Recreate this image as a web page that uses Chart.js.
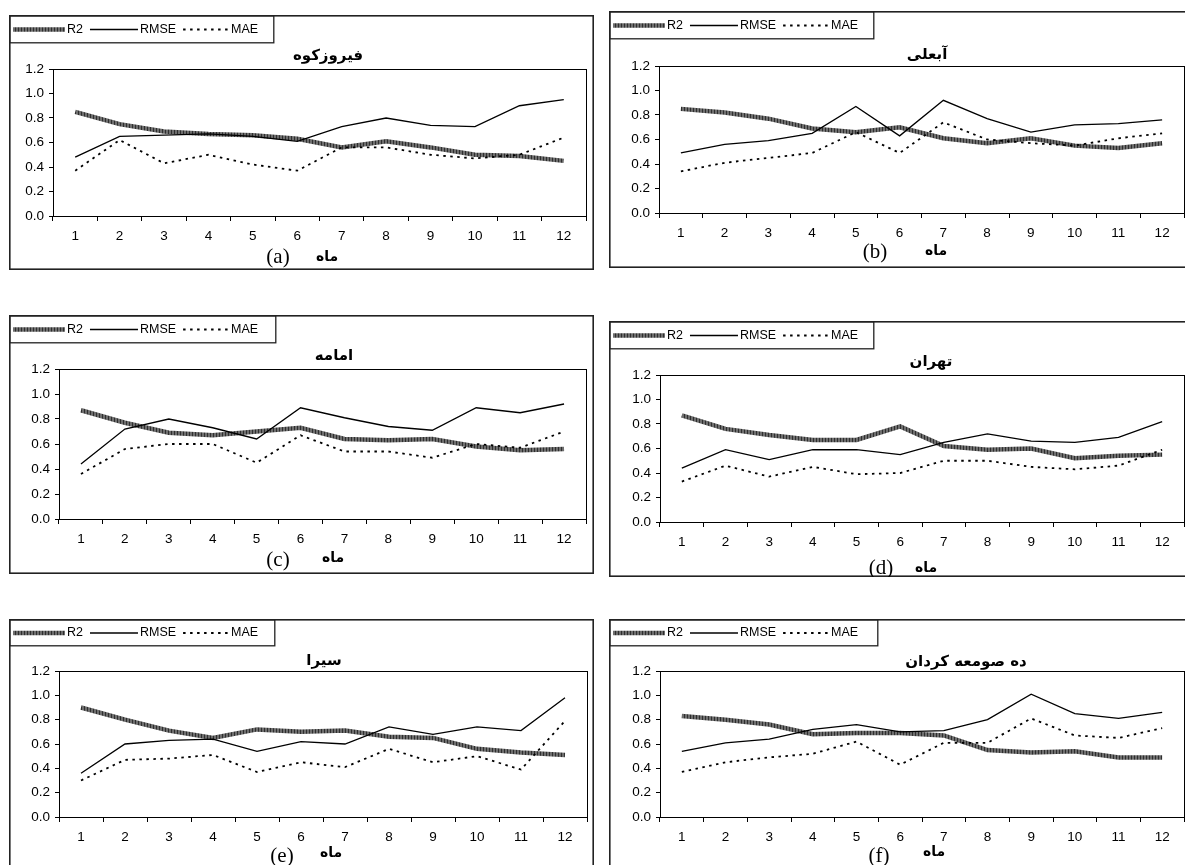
<!DOCTYPE html>
<html><head><meta charset="utf-8">
<script src="https://cdn.jsdelivr.net/npm/chart.js@4.4.1/dist/chart.umd.min.js"></script>
<style>
html,body{margin:0;padding:0;background:#fff;overflow:hidden;width:1185px;height:865px;position:relative;}
canvas{position:absolute;}
</style></head><body>
<script>
// ---------- data ----------
const months = ['1','2','3','4','5','6','7','8','9','10','11','12'];
const yTickValues = [0, 0.2, 0.4, 0.6, 0.8, 1.0, 1.2];
const seriesNames = ['R2', 'RMSE', 'MAE'];
const stationTitles = ['فیروزکوه', 'آبعلی', 'امامه', 'تهران', 'سیرا', 'ده صومعه کردان'];
const panelLetters = ['(a)', '(b)', '(c)', '(d)', '(e)', '(f)'];
const xAxisWord = 'ماه';

const r2_a   = [0.85,0.75,0.69,0.67,0.66,0.63,0.56,0.61,0.56,0.50,0.49,0.45];
const rmse_a = [0.48,0.65,0.66,0.67,0.65,0.61,0.73,0.80,0.74,0.73,0.90,0.95];
const mae_a  = [0.37,0.62,0.43,0.50,0.42,0.37,0.56,0.56,0.50,0.47,0.50,0.64];

const r2_b   = [0.85,0.82,0.77,0.69,0.66,0.70,0.61,0.57,0.61,0.55,0.53,0.57];
const rmse_b = [0.49,0.56,0.59,0.65,0.87,0.63,0.92,0.77,0.66,0.72,0.73,0.76];
const mae_b  = [0.34,0.41,0.45,0.49,0.66,0.49,0.74,0.60,0.57,0.55,0.61,0.65];

const r2_c   = [0.87,0.77,0.69,0.67,0.70,0.73,0.64,0.63,0.64,0.58,0.55,0.56];
const rmse_c = [0.44,0.72,0.80,0.73,0.64,0.89,0.81,0.74,0.71,0.89,0.85,0.92];
const mae_c  = [0.36,0.56,0.60,0.60,0.45,0.67,0.54,0.54,0.49,0.60,0.57,0.70];

const r2_d   = [0.87,0.76,0.71,0.67,0.67,0.78,0.62,0.59,0.60,0.52,0.54,0.55];
const rmse_d = [0.44,0.59,0.51,0.59,0.59,0.55,0.65,0.72,0.66,0.65,0.69,0.82];
const mae_d  = [0.33,0.46,0.37,0.45,0.39,0.40,0.50,0.50,0.45,0.43,0.46,0.59];

const r2_e   = [0.90,0.80,0.71,0.65,0.72,0.70,0.71,0.66,0.65,0.56,0.53,0.51];
const rmse_e = [0.36,0.60,0.63,0.64,0.54,0.62,0.60,0.74,0.68,0.74,0.71,0.98];
const mae_e  = [0.30,0.47,0.48,0.51,0.37,0.45,0.41,0.56,0.45,0.50,0.39,0.79];

const r2_f   = [0.83,0.80,0.76,0.68,0.69,0.69,0.67,0.55,0.53,0.54,0.49,0.49];
const rmse_f = [0.54,0.61,0.64,0.72,0.76,0.70,0.71,0.80,1.01,0.85,0.81,0.86];
const mae_f  = [0.37,0.45,0.49,0.52,0.62,0.43,0.61,0.61,0.81,0.67,0.65,0.73];

const panelSeries = [
  [r2_a, rmse_a, mae_a], [r2_b, rmse_b, mae_b], [r2_c, rmse_c, mae_c],
  [r2_d, rmse_d, mae_d], [r2_e, rmse_e, mae_e], [r2_f, rmse_f, mae_f]
];

// ---------- layout (page pixels) ----------
const panels = [
  {box:[9,15,585,255],  plot:[53,69,586,216],   legend:[264,27], title:[328,56],  cap:[[278,257],[327,257]]},
  {box:[609,11,600,257],plot:[659,66,1184,213], legend:[264,27], title:[927,55],  cap:[[875,252],[936,251]]},
  {box:[9,315,585,259], plot:[59,369,586,519],  legend:[266,27], title:[334,356], cap:[[278,560],[333,558]]},
  {box:[609,321,600,256],plot:[660,375,1184,522],legend:[264,27], title:[931,362], cap:[[881,568],[926,568]]},
  {box:[9,619,585,260], plot:[59,671,587,817],  legend:[265,26], title:[324,661], cap:[[282,856],[331,853]]},
  {box:[609,619,600,260],plot:[660,671,1184,817],legend:[268,26], title:[966,662], cap:[[879,856],[934,852]]}
];

// hatched grey pattern for R2
const pc = document.createElement('canvas');
pc.width = 3; pc.height = 3;
const pg = pc.getContext('2d');
pg.fillStyle = '#6e6e6e'; pg.fillRect(0,0,3,3);
pg.fillStyle = '#2e2e2e'; pg.fillRect(0,0,1,3);
const r2Pattern = pg.createPattern(pc, 'repeat');

const seriesStyles = [
  {borderColor: r2Pattern, borderWidth: 4.5, borderDash: [], order: 3},
  {borderColor: '#000', borderWidth: 1.3, borderDash: [], order: 2},
  {borderColor: '#000', borderWidth: 1.8, borderDash: [2.5, 4.5], order: 1}
];

const decorPlugin = {
  id: 'decor',
  afterDraw(chart) {
    const o = chart.options.plugins.decor;
    const ctx = chart.ctx;
    const ca = chart.chartArea;
    const bx = o.box[0], by = o.box[1];
    ctx.save();
    // plot area frame
    ctx.strokeStyle = '#000';
    ctx.lineWidth = 1;
    ctx.strokeRect(Math.round(ca.left)+0.5, Math.round(ca.top)+0.5, Math.round(ca.right-ca.left), Math.round(ca.bottom-ca.top));
    // panel frame
    ctx.strokeStyle = '#222';
    ctx.lineWidth = 1.6;
    ctx.strokeRect(0.8, 0.8, chart.width-1.6, chart.height-1.6);
    // legend box
    const lw = o.legend[0], lh = o.legend[1];
    ctx.lineWidth = 1.3;
    ctx.strokeRect(0.8, 0.8, lw, lh);
    let x = 4;
    const yc = lh/2 + 1;
    ctx.font = '12.5px "Liberation Sans", Arial, sans-serif';
    ctx.textBaseline = 'middle';
    ctx.textAlign = 'left';
    chart.data.datasets.forEach((ds, i) => {
      const sw = [52, 48, 46][i];
      ctx.save();
      ctx.strokeStyle = ds.borderColor;
      ctx.lineWidth = ds.borderWidth;
      ctx.setLineDash(ds.borderDash || []);
      ctx.beginPath();
      ctx.moveTo(x, yc);
      ctx.lineTo(x + sw, yc);
      ctx.stroke();
      ctx.restore();
      ctx.fillStyle = '#000';
      ctx.fillText(ds.label, x + sw + 2, yc);
      x += sw + 2 + ctx.measureText(ds.label).width + 7;
    });
    // title
    ctx.fillStyle = '#000';
    ctx.textAlign = 'center';
    ctx.textBaseline = 'middle';
    ctx.font = 'bold 15px "DejaVu Sans", sans-serif';
    ctx.fillText(o.titleText, o.title[0]-bx, o.title[1]-by);
    // caption: letter + axis word
    ctx.font = '21px "Liberation Serif", "Times New Roman", serif';
    ctx.fillText(o.letter, o.cap[0][0]-bx, o.cap[0][1]-by);
    ctx.font = 'bold 14px "DejaVu Sans", sans-serif';
    ctx.fillText(o.word, o.cap[1][0]-bx, o.cap[1][1]-by);
    ctx.restore();
  }
};

panels.forEach((p, i) => {
  const [bx, by, bw, bh] = p.box;
  const [pl, pt, pr, pb] = p.plot;
  const canvas = document.createElement('canvas');
  canvas.width = bw; canvas.height = bh;
  canvas.style.left = bx + 'px'; canvas.style.top = by + 'px';
  canvas.style.width = bw + 'px'; canvas.style.height = bh + 'px';
  document.body.appendChild(canvas);
  const yW = 40, xH = 30;
  const datasets = seriesNames.map((name, k) => ({
    label: name,
    data: panelSeries[i][k],
    borderColor: seriesStyles[k].borderColor,
    backgroundColor: 'transparent',
    borderWidth: seriesStyles[k].borderWidth,
    borderDash: seriesStyles[k].borderDash,
    order: seriesStyles[k].order,
    pointRadius: 0,
    tension: 0,
    fill: false,
    borderCapStyle: 'butt',
    borderJoinStyle: 'miter'
  }));
  new Chart(canvas, {
    type: 'line',
    data: { labels: months, datasets },
    options: {
      responsive: false,
      animation: false,
      devicePixelRatio: 1,
      events: [],
      layout: { padding: { left: pl - bx - yW, top: pt - by, right: bx + bw - pr, bottom: by + bh - pb - xH } },
      plugins: {
        legend: { display: false },
        tooltip: { enabled: false },
        title: { display: false },
        decor: { box: p.box, legend: p.legend, title: p.title, cap: p.cap,
                 titleText: stationTitles[i], letter: panelLetters[i], word: xAxisWord }
      },
      scales: {
        x: {
          offset: true,
          grid: { offset: true, drawOnChartArea: false, drawTicks: true, tickLength: 5, color: '#000' },
          border: { display: true, color: '#000', width: 1 },
          ticks: { font: { family: '"Liberation Sans", Arial, sans-serif', size: 13.5 }, color: '#000', padding: 7, maxRotation: 0, autoSkip: false },
          afterFit(s) { s.height = xH; }
        },
        y: {
          min: 0, max: 1.2,
          afterBuildTicks(s) { s.ticks = yTickValues.map(v => ({ value: v })); },
          ticks: { font: { family: '"Liberation Sans", Arial, sans-serif', size: 13.5 }, color: '#000', padding: 5,
                   callback: v => Number(v).toFixed(1) },
          grid: { drawOnChartArea: false, drawTicks: true, tickLength: 4, color: '#000' },
          border: { display: true, color: '#000', width: 1 },
          afterFit(s) { s.width = yW; }
        }
      }
    },
    plugins: [decorPlugin]
  });
});
</script>
</body></html>
